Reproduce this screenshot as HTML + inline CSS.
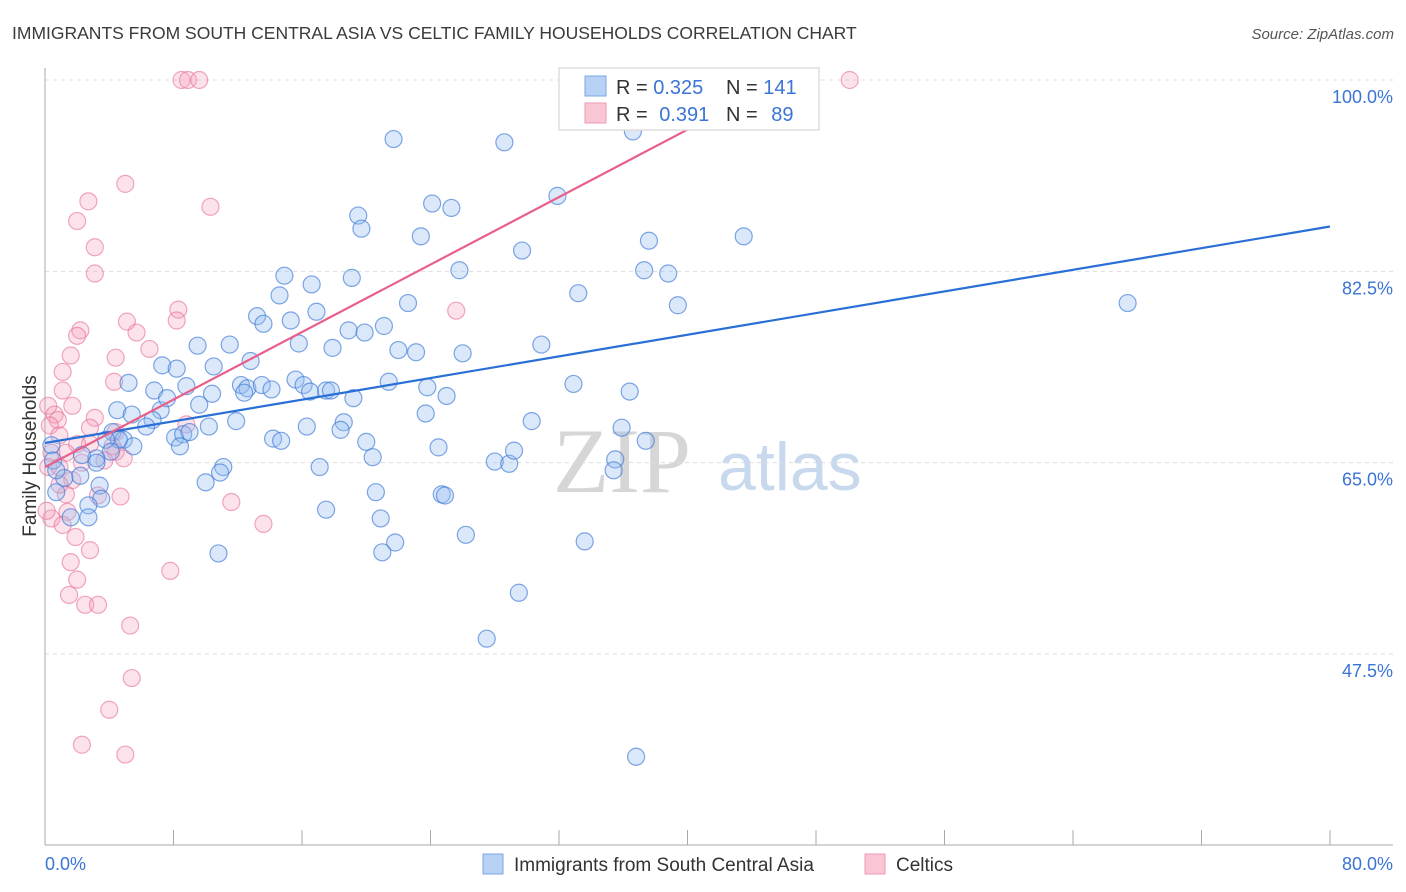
<!DOCTYPE html>
<html><head><meta charset="utf-8">
<style>
body{margin:0;background:#fff;font-family:"Liberation Sans",sans-serif;}
svg{display:block}
</style></head>
<body>
<svg id="chart" width="1406" height="892" viewBox="0 0 1406 892" xmlns="http://www.w3.org/2000/svg">
<text x="12" y="39" font-size="17.5" fill="#3a3a3a">IMMIGRANTS FROM SOUTH CENTRAL ASIA VS CELTIC FAMILY HOUSEHOLDS CORRELATION CHART</text>
<text x="1394" y="39" font-size="15" fill="#555" font-style="italic" text-anchor="end">Source: ZipAtlas.com</text>
<g>
<text x="553" y="492" font-size="92" font-family="Liberation Serif,serif" fill="#d6d6d6">ZIP</text>
<text x="718" y="490" font-size="68" fill="#c8d9ee">atlas</text>
</g>
<g id="grid"></g>
<g id="axes"></g>
<g id="pinkPts"></g>
<g id="bluePts"></g>
<g id="trends"></g>
<text x="36" y="456" font-size="19" fill="#333" text-anchor="middle" transform="rotate(-90 36 456)">Family Households</text>
<g>
<rect x="559" y="68" width="260" height="62" fill="#fff" stroke="#ddd" stroke-width="1.5"/>
<rect x="585" y="76" width="21" height="20" fill="#b7d2f5" stroke="#7aa7e5"/>
<rect x="585" y="103" width="21" height="20" fill="#f9c6d4" stroke="#ee9ab3"/>
<text x="616" y="94" font-size="20" fill="#333">R = <tspan fill="#3a74d6">0.325</tspan></text>
<text x="726" y="94" font-size="20" fill="#333">N = <tspan fill="#3a74d6">141</tspan></text>
<text x="616" y="121" font-size="20" fill="#333">R = <tspan fill="#3a74d6" dx="6">0.391</tspan></text>
<text x="726" y="121" font-size="20" fill="#333">N = <tspan fill="#3a74d6" dx="8">89</tspan></text>
</g>
<g>
<rect x="483" y="854" width="20" height="20" fill="#b7d2f5" stroke="#7aa7e5"/>
<text x="514" y="871" font-size="19" fill="#333">Immigrants from South Central Asia</text>
<rect x="865" y="854" width="20" height="20" fill="#f9c6d4" stroke="#ee9ab3"/>
<text x="896" y="871" font-size="19" fill="#333">Celtics</text>
</g>
</svg>
<script>
const yTicks=[100,82.5,65,47.5];
const yTickLabels=["100.0%","82.5%","65.0%","47.5%"];
const xTickCount=10;
const xMin=0,xMax=80;
const xEndLabels=["0.0%","80.0%"];
const blueX=[21.7,28.6,36.6,31.9,24.1,25.3,19.5,19.7,23.4,43.5,37.6,29.7,25.8,37.3,38.8,14.9,19.1,16.6,14.6,33.2,39.4,67.4,22.6,16.9,13.2,13.6,15.3,21.1,18.9,19.9,15.8,17.9,22.0,23.1,26.0,30.9,9.5,11.5,12.8,7.3,8.2,10.5,5.2,6.8,8.8,12.2,12.6,13.5,14.1,10.4,12.4,15.6,16.1,16.5,17.5,17.8,19.2,21.4,23.8,25.0,32.9,36.4,4.5,5.4,7.2,7.6,9.6,6.7,6.3,4.2,4.9,5.5,4.6,8.1,8.6,9.0,8.4,10.2,11.9,14.2,14.7,16.3,18.6,18.4,20.0,20.4,23.7,24.5,30.3,35.9,37.4,3.8,4.1,3.2,2.3,0.4,0.5,2.2,1.2,3.2,3.4,3.5,2.7,2.7,1.6,0.7,0.7,11.1,10.9,10.0,17.1,28.0,28.9,29.2,35.5,35.4,20.6,24.7,24.9,17.5,20.9,10.8,21.8,21.0,26.2,33.6,29.5,27.5,36.8,41.7];
const blueY=[94.6,94.3,95.3,89.4,88.7,88.3,87.6,86.4,85.7,85.7,85.3,84.4,82.6,82.6,82.3,82.1,81.9,81.3,80.3,80.5,79.4,79.6,79.6,78.8,78.4,77.7,78.0,77.5,77.1,76.9,75.9,75.5,75.3,75.1,75.0,75.8,75.7,75.8,74.3,73.9,73.6,73.8,72.3,71.6,72.0,72.1,71.8,72.1,71.7,71.3,71.4,72.6,72.1,71.5,71.6,71.6,70.9,72.4,71.9,71.1,72.2,71.5,69.8,69.4,69.8,70.9,70.3,68.9,68.3,67.8,67.1,66.5,67.1,67.3,67.6,67.8,66.5,68.3,68.8,67.2,67.0,68.3,68.7,68.0,66.9,65.5,69.5,66.4,68.8,68.2,67.0,67.1,66.0,65.4,65.7,66.6,65.2,63.8,63.6,65.0,62.9,61.7,61.1,60.0,60.0,62.3,64.3,64.6,64.1,63.2,64.6,65.1,64.9,66.1,65.3,64.3,62.3,62.1,62.0,60.7,59.9,56.7,57.7,56.8,58.4,57.8,53.1,48.9,38.1,97.0];
const pinkX=[8.5,8.9,9.6,50.1,5.0,10.3,2.7,2.0,3.1,3.1,8.3,8.2,5.1,25.6,2.2,2.0,5.7,6.5,1.6,4.4,1.1,4.3,1.1,0.2,1.7,0.6,0.8,3.1,2.8,0.3,0.9,4.4,2.8,2.0,1.3,0.4,0.2,4.2,4.4,4.9,8.8,3.7,2.3,0.9,1.7,3.3,4.7,1.3,11.6,13.6,1.4,0.4,1.1,1.9,2.8,1.6,2.0,7.8,1.5,2.5,3.3,5.3,5.4,4.0,2.3,5.0,0.9,0.1];
const pinkY=[100,100,100,100,90.5,88.4,88.9,87.1,84.7,82.3,79.0,78.0,77.9,78.9,77.1,76.6,76.9,75.4,74.8,74.6,73.3,72.4,71.6,70.2,70.2,69.4,68.9,69.1,68.2,68.4,67.5,67.8,66.7,66.7,65.9,65.9,64.6,66.5,66.0,65.4,68.5,65.2,65.0,64.6,63.4,62.0,61.9,62.1,61.4,59.4,60.5,59.9,59.3,58.2,57.0,55.9,54.3,55.1,52.9,52.0,52.0,50.1,45.3,42.4,39.2,38.3,63.0,60.6];
const blueTrend=[[0,66.8],[80,86.6]];
const pinkTrend=[[0,64.6],[45.1,99.4]];

const NS="http://www.w3.org/2000/svg";
const L=45,R=1330,T=80,B=654;
function xs(v){return L+(v-xMin)/(xMax-xMin)*(R-L);}
function ys(v){return T+(100-v)/(100-47.5)*(B-T);}
function mk(tag,attrs,parent){const e=document.createElementNS(NS,tag);for(const k in attrs)e.setAttribute(k,attrs[k]);parent.appendChild(e);return e;}
const grid=document.getElementById('grid'),axes=document.getElementById('axes');
yTicks.forEach((t,i)=>{
  const g=mk('line',{x1:L,x2:1393,y1:ys(t),y2:ys(t),stroke:'#ddd','stroke-dasharray':'4,4'},grid);
  
  
  const tx=mk('text',{x:1393,y:ys(t)+23,'font-size':18,fill:'#3a74d6','text-anchor':'end'},axes);
  tx.textContent=yTickLabels[i];
  
  
});
const al=mk('line',{x1:L,x2:L,y1:68,y2:845,stroke:'#aaa'},axes);


const bl=mk('line',{x1:L,x2:1393,y1:845,y2:845,stroke:'#aaa'},axes);


for(let i=0;i<=xTickCount;i++){
  const v=xMin+i*(xMax-xMin)/xTickCount;
  const tk=mk('line',{x1:xs(v),x2:xs(v),y1:830,y2:845,stroke:'#aaa'},axes);
  
  
}
const xl0=mk('text',{x:45,y:870,'font-size':18,fill:'#3a74d6'},axes);
xl0.textContent=xEndLabels[0];


const xl1=mk('text',{x:1393,y:870,'font-size':18,fill:'#3a74d6','text-anchor':'end'},axes);
xl1.textContent=xEndLabels[1];


const pg=document.getElementById('pinkPts');
pinkX.forEach((x,i)=>{
  const c=mk('circle',{cx:xs(x),cy:ys(pinkY[i]),r:8.5,fill:'rgba(244,160,185,0.3)',stroke:'rgba(232,110,150,0.6)','stroke-width':1.2},pg);
  
  
});
const bg=document.getElementById('bluePts');
blueX.forEach((x,i)=>{
  const c=mk('circle',{cx:xs(x),cy:ys(blueY[i]),r:8.5,fill:'rgba(150,190,240,0.35)',stroke:'rgba(60,120,215,0.65)','stroke-width':1.2},bg);
  
  
});
const tg=document.getElementById('trends');
const bt=mk('line',{x1:xs(blueTrend[0][0]),y1:ys(blueTrend[0][1]),x2:xs(blueTrend[1][0]),y2:ys(blueTrend[1][1]),stroke:'#2a6fd6','stroke-width':2.2},tg);


const pt=mk('line',{x1:xs(pinkTrend[0][0]),y1:ys(pinkTrend[0][1]),x2:xs(pinkTrend[1][0]),y2:ys(pinkTrend[1][1]),stroke:'#e8608a','stroke-width':2.2},tg);


</script>
</body></html>
